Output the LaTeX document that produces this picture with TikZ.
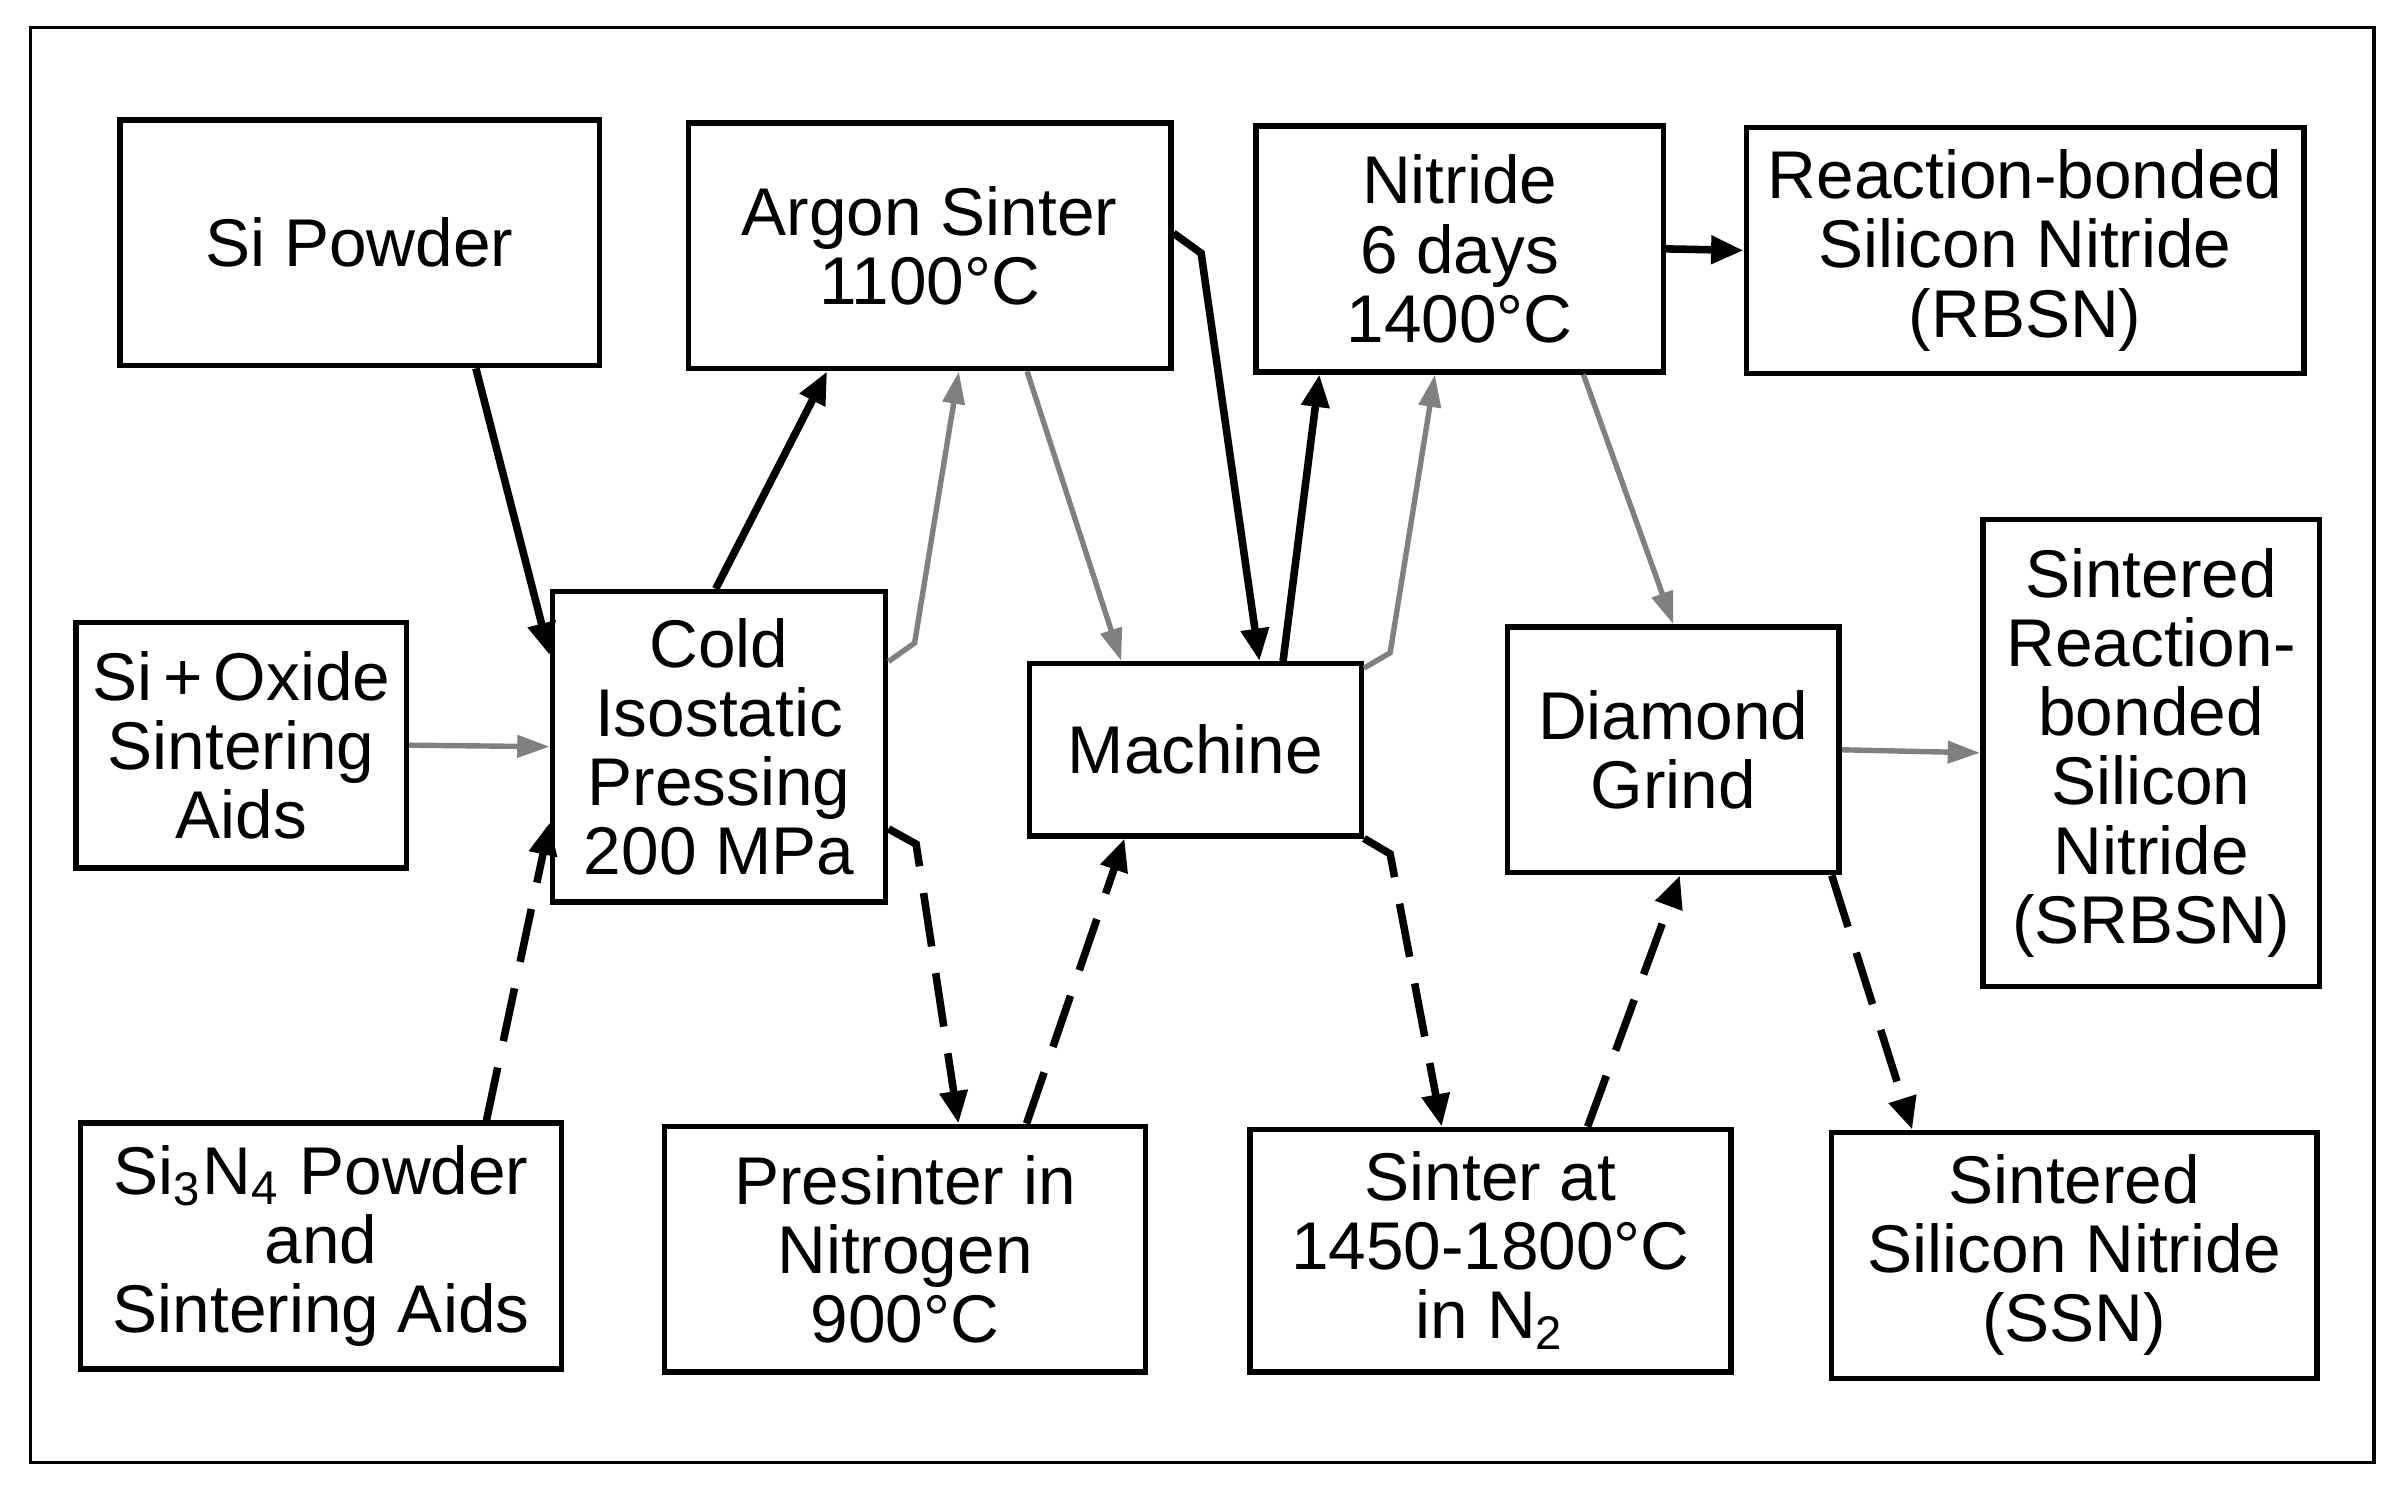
\documentclass[tikz,border=0pt]{standalone}
\usepackage{fontspec}
\setmainfont{Liberation Sans}
\usetikzlibrary{arrows.meta,calc}
\begin{document}
\begin{tikzpicture}[x=0.01cm,y=-0.01cm,
 box/.style={draw,line width=1pt,align=center,inner sep=0pt,font=\fontsize{12.5}{12.8}\selectfont},
 sol/.style={line width=1.4pt,-{Triangle[length=6pt,width=5pt]}},
 gr/.style={line width=1pt,gray,-{Triangle[length=6pt,width=4pt]}},
 da/.style={line width=1.4pt,dash pattern=on 10pt off 5pt,-{Triangle[length=6pt,width=5pt]}}]
\useasboundingbox (0,0) rectangle (1562,974);
\draw[line width=0.6pt] (20,18) rectangle (1545,952);
\newcommand\bx[6]{\node[box,minimum width=#4*0.01cm,minimum height=#5*0.01cm] (#1) at (#2,#3) {#6};}
\bx{sip}{234}{158}{312}{160}{Si Powder}
\bx{arg}{605}{160}{314}{160}{Argon Sinter\\1100°C}
\bx{nit}{950}{162}{265}{160}{Nitride\\6 days\\1400°C}
\bx{rbsn}{1318}{163}{363}{160}{Reaction-bonded\\Silicon Nitride\\(RBSN)}
\bx{oxi}{157}{485}{215}{160}{Si\,+\,Oxide\\Sintering\\Aids}
\bx{cip}{468}{486}{217}{202}{Cold\\Isostatic\\Pressing\\200 MPa}
\bx{mac}{778}{488}{216}{112}{Machine}
\bx{dia}{1089}{488}{216}{160}{Diamond\\Grind}
\bx{srb}{1400}{490}{219}{304}{Sintered\\Reaction-\\bonded\\Silicon\\Nitride\\(SRBSN)}
\bx{sin}{209}{811}{313}{160}{Si\textsubscript{3}N\textsubscript{4} Powder\\and\\Sintering Aids}
\bx{pre}{589}{813}{313}{160}{Presinter in\\Nitrogen\\900°C}
\bx{snt}{970}{814}{313}{158}{Sinter at\\1450-1800°C\\in N\textsubscript{2}}
\bx{ssn}{1350}{817}{316}{160}{Sintered\\Silicon Nitride\\(SSN)}
% solid
\draw[sol] ($(sip.south west)!0.74!(sip.south east)$) -- ($(cip.north west)!0.21!(cip.south west)$);
\draw[sol] ($(cip.north west)!0.49!(cip.north east)$) -- ($(arg.south west)!0.29!(arg.south east)$);
\draw[sol] ($(arg.north east)!0.45!(arg.south east)$) -- ++(18,13) -- ($(mac.north west)!0.69!(mac.north east)$);
\draw[sol] ($(mac.north west)!0.76!(mac.north east)$) -- ($(nit.south west)!0.16!(nit.south east)$);
\draw[sol] (nit.east) -- (rbsn.west);
% gray
\draw[gr] (oxi.east) -- (cip.west);
\draw[gr] ($(cip.north east)!0.23!(cip.south east)$) -- ++(17,-12) -- ($(arg.south west)!0.56!(arg.south east)$);
\draw[gr] ($(arg.south west)!0.7!(arg.south east)$) -- ($(mac.north west)!0.28!(mac.north east)$);
\draw[gr] ($(mac.north east)!0.04!(mac.south east)$) -- ++(17,-10) -- ($(nit.south west)!0.44!(nit.south east)$);
\draw[gr] ($(nit.south west)!0.8!(nit.south east)$) -- (dia.north);
\draw[gr] (dia.east) -- (srb.west);
% dashed
\draw[da] ($(sin.north west)!0.84!(sin.north east)$) -- ($(cip.north west)!0.74!(cip.south west)$);
\draw[da] ($(cip.north east)!0.76!(cip.south east)$) -- ++(18,10) -- ($(pre.north west)!0.61!(pre.north east)$);
\draw[da] ($(pre.north west)!0.75!(pre.north east)$) -- ($(mac.south west)!0.29!(mac.south east)$);
\draw[da] (mac.south east) -- ++(17,10) -- ($(snt.north west)!0.4!(snt.north east)$);
\draw[da] ($(snt.north west)!0.70!(snt.north east)$) -- ($(dia.south west)!0.52!(dia.south east)$);
\draw[da] ($(dia.south west)!0.97!(dia.south east)$) -- ($(ssn.north west)!0.17!(ssn.north east)$);
\end{tikzpicture}
\end{document}
